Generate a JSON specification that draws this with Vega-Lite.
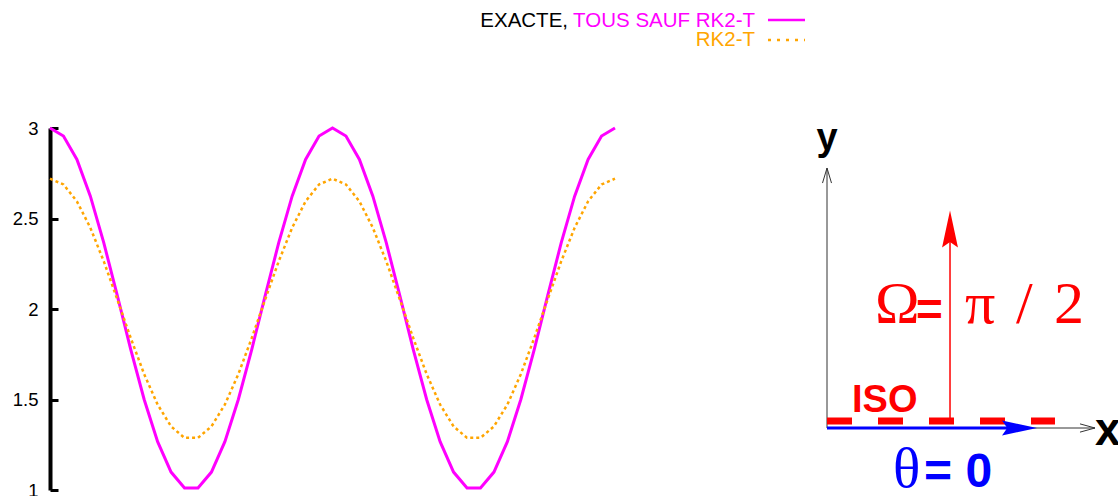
{
  "$schema": "https://vega.github.io/schema/vega-lite/v6.json",
  "width": 565,
  "height": 362,
  "autosize": {"type": "none"},
  "padding": {"left": 50, "top": 128, "right": 503, "bottom": 6},
  "background": "white",
  "config": {"view": {"stroke": null}, "text": {"font": "Liberation Sans"}},
  "datasets": {
    "curves": [
      {"k": 0, "exacte": 3, "rk2": 2.72},
      {"k": 1, "exacte": 2.9556, "rk2": 2.688},
      {"k": 2, "exacte": 2.8262, "rk2": 2.5949},
      {"k": 3, "exacte": 2.6235, "rk2": 2.4489},
      {"k": 4, "exacte": 2.3653, "rk2": 2.263},
      {"k": 5, "exacte": 2.0747, "rk2": 2.0538},
      {"k": 6, "exacte": 1.7775, "rk2": 1.8398},
      {"k": 7, "exacte": 1.5, "rk2": 1.64},
      {"k": 8, "exacte": 1.2669, "rk2": 1.4722},
      {"k": 9, "exacte": 1.099, "rk2": 1.3513},
      {"k": 10, "exacte": 1.0112, "rk2": 1.288},
      {"k": 11, "exacte": 1.0112, "rk2": 1.288},
      {"k": 12, "exacte": 1.099, "rk2": 1.3513},
      {"k": 13, "exacte": 1.2669, "rk2": 1.4722},
      {"k": 14, "exacte": 1.5, "rk2": 1.64},
      {"k": 15, "exacte": 1.7775, "rk2": 1.8398},
      {"k": 16, "exacte": 2.0747, "rk2": 2.0538},
      {"k": 17, "exacte": 2.3653, "rk2": 2.263},
      {"k": 18, "exacte": 2.6235, "rk2": 2.4489},
      {"k": 19, "exacte": 2.8262, "rk2": 2.5949},
      {"k": 20, "exacte": 2.9556, "rk2": 2.688},
      {"k": 21, "exacte": 3, "rk2": 2.72},
      {"k": 22, "exacte": 2.9556, "rk2": 2.688},
      {"k": 23, "exacte": 2.8262, "rk2": 2.5949},
      {"k": 24, "exacte": 2.6235, "rk2": 2.4489},
      {"k": 25, "exacte": 2.3653, "rk2": 2.263},
      {"k": 26, "exacte": 2.0747, "rk2": 2.0538},
      {"k": 27, "exacte": 1.7775, "rk2": 1.8398},
      {"k": 28, "exacte": 1.5, "rk2": 1.64},
      {"k": 29, "exacte": 1.2669, "rk2": 1.4722},
      {"k": 30, "exacte": 1.099, "rk2": 1.3513},
      {"k": 31, "exacte": 1.0112, "rk2": 1.288},
      {"k": 32, "exacte": 1.0112, "rk2": 1.288},
      {"k": 33, "exacte": 1.099, "rk2": 1.3513},
      {"k": 34, "exacte": 1.2669, "rk2": 1.4722},
      {"k": 35, "exacte": 1.5, "rk2": 1.64},
      {"k": 36, "exacte": 1.7775, "rk2": 1.8398},
      {"k": 37, "exacte": 2.0747, "rk2": 2.0538},
      {"k": 38, "exacte": 2.3653, "rk2": 2.263},
      {"k": 39, "exacte": 2.6235, "rk2": 2.4489},
      {"k": 40, "exacte": 2.8262, "rk2": 2.5949},
      {"k": 41, "exacte": 2.9556, "rk2": 2.688},
      {"k": 42, "exacte": 3, "rk2": 2.72}
    ]
  },
  "layer": [
    {
      "layer": [
        {
          "data": {"name": "curves"},
          "mark": {"type": "line", "color": "#ff00ff", "strokeWidth": 3},
          "encoding": {
            "x": {"field": "k", "type": "quantitative", "scale": {"domain": [0, 42], "nice": false, "zero": false}, "axis": null},
            "y": {"field": "exacte", "type": "quantitative", "scale": {"domain": [1, 3], "nice": false, "zero": false},
              "axis": {"title": null, "values": [1, 1.5, 2, 2.5, 3], "grid": false, "domainColor": "black", "domainWidth": 4,
                "tickColor": "black", "tickWidth": 3, "tickSize": -8, "labelPadding": 20, "labelFont": "Liberation Sans",
                "labelFontSize": 18.5, "labelColor": "black", "labelFlush": false, "labelOverlap": false, "format": "~g"}}
          }
        },
        {
          "data": {"name": "curves"},
          "mark": {"type": "line", "color": "#ffa500", "strokeWidth": 2.5, "strokeDash": [3, 3]},
          "encoding": {
            "x": {"field": "k", "type": "quantitative", "scale": {"domain": [0, 42], "nice": false, "zero": false}, "axis": null},
            "y": {"field": "rk2", "type": "quantitative", "scale": {"domain": [1, 3], "nice": false, "zero": false}}
          }
        },
        {
          "data": {"values": [{"t": "EXACTE,", "k": 38.506, "v": 3.558}]},
          "mark": {"type": "text", "align": "right", "baseline": "alphabetic", "fontSize": 20.5, "color": "black"},
          "encoding": {
            "x": {"field": "k", "type": "quantitative", "scale": {"domain": [0, 42], "nice": false, "zero": false}, "axis": null},
            "y": {"field": "v", "type": "quantitative", "scale": {"domain": [1, 3], "nice": false, "zero": false}},
            "text": {"field": "t"}
          }
        },
        {
          "data": {"values": [{"t": "TOUS SAUF RK2-T", "k": 52.407, "v": 3.558}]},
          "mark": {"type": "text", "align": "right", "baseline": "alphabetic", "fontSize": 20.5, "color": "#ff00ff"},
          "encoding": {
            "x": {"field": "k", "type": "quantitative", "scale": {"domain": [0, 42], "nice": false, "zero": false}, "axis": null},
            "y": {"field": "v", "type": "quantitative", "scale": {"domain": [1, 3], "nice": false, "zero": false}},
            "text": {"field": "t"}
          }
        },
        {
          "data": {"values": [{"t": "RK2-T", "k": 52.407, "v": 3.453}]},
          "mark": {"type": "text", "align": "right", "baseline": "alphabetic", "fontSize": 20.5, "color": "#ffa500"},
          "encoding": {
            "x": {"field": "k", "type": "quantitative", "scale": {"domain": [0, 42], "nice": false, "zero": false}, "axis": null},
            "y": {"field": "v", "type": "quantitative", "scale": {"domain": [1, 3], "nice": false, "zero": false}},
            "text": {"field": "t"}
          }
        },
        {
          "data": {"values": [{"k": 53.373, "k2": 56.124, "v": 3.597}]},
          "mark": {"type": "rule", "color": "#ff00ff", "strokeWidth": 2.5},
          "encoding": {
            "x": {"field": "k", "type": "quantitative", "scale": {"domain": [0, 42], "nice": false, "zero": false}, "axis": null},
            "x2": {"field": "k2"},
            "y": {"field": "v", "type": "quantitative", "scale": {"domain": [1, 3], "nice": false, "zero": false}}
          }
        },
        {
          "data": {"values": [{"k": 53.373, "k2": 56.124, "v": 3.486}]},
          "mark": {"type": "rule", "color": "#ffa500", "strokeWidth": 2.5, "strokeDash": [3, 6]},
          "encoding": {
            "x": {"field": "k", "type": "quantitative", "scale": {"domain": [0, 42], "nice": false, "zero": false}, "axis": null},
            "x2": {"field": "k2"},
            "y": {"field": "v", "type": "quantitative", "scale": {"domain": [1, 3], "nice": false, "zero": false}}
          }
        }
      ]
    },
    {
      "layer": [
        {
          "data": {"values": [
            {"part": "axe y", "v": 0, "w": 0, "v2": 0, "w2": 0.963},
            {"part": "axe x", "v": 0, "w": 0, "v2": 0.9926, "w2": 0}
          ]},
          "mark": {"type": "rule", "color": "#333333", "strokeWidth": 1},
          "encoding": {
            "x": {"field": "v", "type": "quantitative", "scale": {"domain": [-2.8778, -0.7852], "nice": false, "zero": false}, "axis": null},
            "y": {"field": "w", "type": "quantitative", "scale": {"domain": [-0.2296, 1.1111], "nice": false, "zero": false}, "axis": null},
            "x2": {"field": "v2"},
            "y2": {"field": "w2"}
          }
        },
        {
          "data": {"values": [{"v": 0, "w": 0.0259, "v2": 0.8444, "w2": 0.0259}]},
          "mark": {"type": "rule", "color": "#ff0000", "strokeWidth": 7, "strokeDash": [25, 26], "strokeCap": "butt"},
          "encoding": {
            "x": {"field": "v", "type": "quantitative", "scale": {"domain": [-2.8778, -0.7852], "nice": false, "zero": false}, "axis": null},
            "y": {"field": "w", "type": "quantitative", "scale": {"domain": [-0.2296, 1.1111], "nice": false, "zero": false}, "axis": null},
            "x2": {"field": "v2"},
            "y2": {"field": "w2"}
          }
        },
        {
          "data": {"values": [{"v": 0.4556, "w": 0.0296, "v2": 0.4556, "w2": 0.78}]},
          "mark": {"type": "rule", "color": "#ff0000", "strokeWidth": 1.5},
          "encoding": {
            "x": {"field": "v", "type": "quantitative", "scale": {"domain": [-2.8778, -0.7852], "nice": false, "zero": false}, "axis": null},
            "y": {"field": "w", "type": "quantitative", "scale": {"domain": [-0.2296, 1.1111], "nice": false, "zero": false}, "axis": null},
            "x2": {"field": "v2"},
            "y2": {"field": "w2"}
          }
        },
        {
          "data": {"values": [{"v": 0, "w": 0, "v2": 0.7, "w2": 0}]},
          "mark": {"type": "rule", "color": "#0000ff", "strokeWidth": 3},
          "encoding": {
            "x": {"field": "v", "type": "quantitative", "scale": {"domain": [-2.8778, -0.7852], "nice": false, "zero": false}, "axis": null},
            "y": {"field": "w", "type": "quantitative", "scale": {"domain": [-0.2296, 1.1111], "nice": false, "zero": false}, "axis": null},
            "x2": {"field": "v2"},
            "y2": {"field": "w2"}
          }
        },
        {
          "data": {"values": [{"v": 0, "w": 0.935}]},
          "mark": {"type": "point", "shape": "M-0.6,1L0,-1L0.6,1", "size": 225, "filled": false, "stroke": "#333333", "strokeWidth": 1, "opacity": 1},
          "encoding": {
            "x": {"field": "v", "type": "quantitative", "scale": {"domain": [-2.8778, -0.7852], "nice": false, "zero": false}, "axis": null},
            "y": {"field": "w", "type": "quantitative", "scale": {"domain": [-0.2296, 1.1111], "nice": false, "zero": false}, "axis": null}
          }
        },
        {
          "data": {"values": [{"v": 0.9648, "w": 0}]},
          "mark": {"type": "point", "shape": "M-1,-0.55L1,0L-1,0.55", "size": 225, "filled": false, "stroke": "#333333", "strokeWidth": 1, "opacity": 1},
          "encoding": {
            "x": {"field": "v", "type": "quantitative", "scale": {"domain": [-2.8778, -0.7852], "nice": false, "zero": false}, "axis": null},
            "y": {"field": "w", "type": "quantitative", "scale": {"domain": [-0.2296, 1.1111], "nice": false, "zero": false}, "axis": null}
          }
        },
        {
          "data": {"values": [{"v": 0.4556, "w": 0.737}]},
          "mark": {"type": "point", "shape": "M0,-1L0.43,1L0,0.7L-0.43,1Z", "size": 1369, "filled": true, "color": "#ff0000", "opacity": 1},
          "encoding": {
            "x": {"field": "v", "type": "quantitative", "scale": {"domain": [-2.8778, -0.7852], "nice": false, "zero": false}, "axis": null},
            "y": {"field": "w", "type": "quantitative", "scale": {"domain": [-0.2296, 1.1111], "nice": false, "zero": false}, "axis": null}
          }
        },
        {
          "data": {"values": [{"v": 0.713, "w": 0}]},
          "mark": {"type": "point", "shape": "M1,0L-1,0.43L-0.7,0L-1,-0.43Z", "size": 1225, "filled": true, "color": "#0000ff", "opacity": 1},
          "encoding": {
            "x": {"field": "v", "type": "quantitative", "scale": {"domain": [-2.8778, -0.7852], "nice": false, "zero": false}, "axis": null},
            "y": {"field": "w", "type": "quantitative", "scale": {"domain": [-0.2296, 1.1111], "nice": false, "zero": false}, "axis": null}
          }
        },
        {
          "data": {"values": [{"t": "y", "v": 0, "w": 1.0296}]},
          "mark": {"type": "text", "align": "center", "baseline": "alphabetic", "font": "Liberation Sans", "fontWeight": "bold", "fontSize": 38, "color": "black"},
          "encoding": {
            "x": {"field": "v", "type": "quantitative", "scale": {"domain": [-2.8778, -0.7852], "nice": false, "zero": false}, "axis": null},
            "y": {"field": "w", "type": "quantitative", "scale": {"domain": [-0.2296, 1.1111], "nice": false, "zero": false}, "axis": null},
            "text": {"field": "t"}
          }
        },
        {
          "data": {"values": [{"t": "x", "v": 0.9926, "w": -0.063}]},
          "mark": {"type": "text", "align": "left", "baseline": "alphabetic", "font": "Liberation Sans", "fontWeight": "bold", "fontSize": 46, "color": "black"},
          "encoding": {
            "x": {"field": "v", "type": "quantitative", "scale": {"domain": [-2.8778, -0.7852], "nice": false, "zero": false}, "axis": null},
            "y": {"field": "w", "type": "quantitative", "scale": {"domain": [-0.2296, 1.1111], "nice": false, "zero": false}, "axis": null},
            "text": {"field": "t"}
          }
        },
        {
          "data": {"values": [{"t": "ISO", "v": 0.0926, "w": 0.0593}]},
          "mark": {"type": "text", "align": "left", "baseline": "alphabetic", "font": "Liberation Sans", "fontWeight": "bold", "fontSize": 38, "color": "#ff0000"},
          "encoding": {
            "x": {"field": "v", "type": "quantitative", "scale": {"domain": [-2.8778, -0.7852], "nice": false, "zero": false}, "axis": null},
            "y": {"field": "w", "type": "quantitative", "scale": {"domain": [-0.2296, 1.1111], "nice": false, "zero": false}, "axis": null},
            "text": {"field": "t"}
          }
        },
        {
          "data": {"values": [
            {"t": "Ω", "v": 0.1778, "w": 0.3889},
            {"t": "π", "v": 0.5111, "w": 0.3889},
            {"t": "/", "v": 0.7, "w": 0.3889},
            {"t": "2", "v": 0.8407, "w": 0.3889}
          ]},
          "mark": {"type": "text", "align": "left", "baseline": "alphabetic", "font": "Liberation Serif", "fontSize": 60, "color": "#ff0000"},
          "encoding": {
            "x": {"field": "v", "type": "quantitative", "scale": {"domain": [-2.8778, -0.7852], "nice": false, "zero": false}, "axis": null},
            "y": {"field": "w", "type": "quantitative", "scale": {"domain": [-0.2296, 1.1111], "nice": false, "zero": false}, "axis": null},
            "text": {"field": "t"}
          }
        },
        {
          "data": {"values": [{"t": "=", "v": 0.3296, "w": 0.3815}]},
          "mark": {"type": "text", "align": "left", "baseline": "alphabetic", "font": "Liberation Sans", "fontWeight": "bold", "fontSize": 46, "color": "#ff0000"},
          "encoding": {
            "x": {"field": "v", "type": "quantitative", "scale": {"domain": [-2.8778, -0.7852], "nice": false, "zero": false}, "axis": null},
            "y": {"field": "w", "type": "quantitative", "scale": {"domain": [-0.2296, 1.1111], "nice": false, "zero": false}, "axis": null},
            "text": {"field": "t"}
          }
        },
        {
          "data": {"values": [{"t": "θ", "v": 0.2444, "w": -0.2185}]},
          "mark": {"type": "text", "align": "left", "baseline": "alphabetic", "font": "Liberation Serif", "fontSize": 57, "color": "#0000ff"},
          "encoding": {
            "x": {"field": "v", "type": "quantitative", "scale": {"domain": [-2.8778, -0.7852], "nice": false, "zero": false}, "axis": null},
            "y": {"field": "w", "type": "quantitative", "scale": {"domain": [-0.2296, 1.1111], "nice": false, "zero": false}, "axis": null},
            "text": {"field": "t"}
          }
        },
        {
          "data": {"values": [{"t": "= 0", "v": 0.3593, "w": -0.2185}]},
          "mark": {"type": "text", "align": "left", "baseline": "alphabetic", "font": "Liberation Sans", "fontWeight": "bold", "fontSize": 48, "color": "#0000ff"},
          "encoding": {
            "x": {"field": "v", "type": "quantitative", "scale": {"domain": [-2.8778, -0.7852], "nice": false, "zero": false}, "axis": null},
            "y": {"field": "w", "type": "quantitative", "scale": {"domain": [-0.2296, 1.1111], "nice": false, "zero": false}, "axis": null},
            "text": {"field": "t"}
          }
        }
      ]
    }
  ],
  "resolve": {"scale": {"x": "independent", "y": "independent"}, "axis": {"x": "independent", "y": "independent"}}
}
